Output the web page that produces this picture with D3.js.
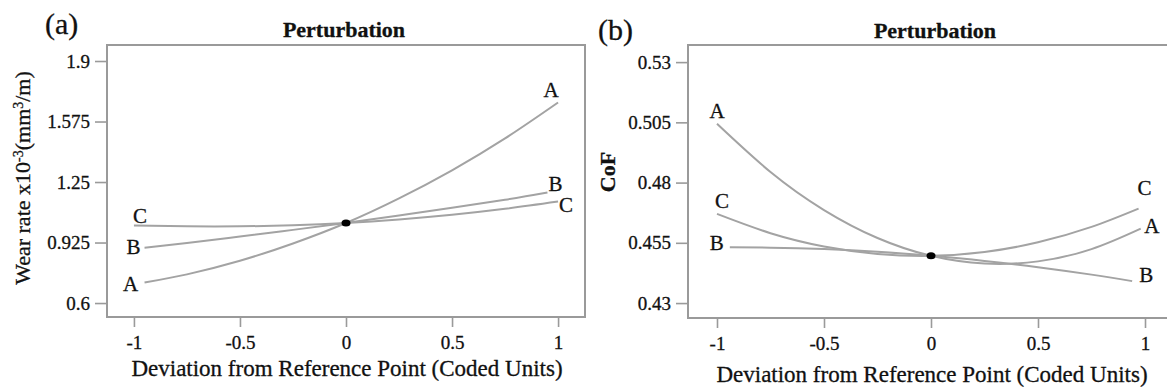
<!DOCTYPE html>
<html><head><meta charset="utf-8">
<script src="https://cdn.jsdelivr.net/npm/d3@7"></script>
<style>body{margin:0;background:#fff}svg{display:block}text{font-family:"Liberation Serif","Times New Roman",serif;fill:#111;stroke:#111;stroke-width:0.3px}</style>
</head><body>
<svg id="chart" width="1167" height="390"></svg>
<script>
// ---- data ----
const xTickVals = [-1, -0.5, 0, 0.5, 1];
const xTickLabels = ["-1", "-0.5", "0", "0.5", "1"];
const wearTicks = [0.6, 0.925, 1.25, 1.575, 1.9];
const wearTickLabels = ["0.6", "0.925", "1.25", "1.575", "1.9"];
const cofTicks = [0.43, 0.455, 0.48, 0.505, 0.53];
const cofTickLabels = ["0.43", "0.455", "0.48", "0.505", "0.53"];

// panel (a) wear rate
const wearAx = [-0.95, -0.75, -0.5, -0.25, 0, 0.25, 0.5, 0.75, 1];
const wearA  = [0.710, 0.754, 0.827, 0.920, 1.030, 1.162, 1.313, 1.484, 1.677];
const wearBx = [-0.95, -0.75, -0.5, -0.25, 0, 0.25, 0.5, 0.75, 0.95];
const wearB  = [0.897, 0.922, 0.957, 0.993, 1.030, 1.070, 1.112, 1.155, 1.194];
const wearCx = [-1, -0.75, -0.5, -0.25, 0, 0.25, 0.5, 0.75, 1];
const wearC  = [1.016, 1.012, 1.012, 1.018, 1.030, 1.049, 1.074, 1.106, 1.145];
const wearRef = [0, 1.030];

// panel (b) CoF
const cofAx = [-1, -0.75, -0.5, -0.25, 0, 0.25, 0.5, 0.75, 0.98];
const cofA  = [0.5044, 0.4844, 0.4686, 0.4570, 0.4496, 0.4464, 0.4473, 0.4524, 0.4609];
const cofBx = [-0.94, -0.75, -0.5, -0.25, 0, 0.25, 0.5, 0.75, 0.94];
const cofB  = [0.4532, 0.4530, 0.4524, 0.4513, 0.4496, 0.4475, 0.4449, 0.4418, 0.4391];
const cofCx = [-1, -0.75, -0.5, -0.25, 0, 0.25, 0.5, 0.75, 0.97];
const cofC  = [0.4670, 0.4590, 0.4535, 0.4504, 0.4496, 0.4512, 0.4552, 0.4616, 0.4692];
const cofRef = [0, 0.4496];

const factorNames = ["A", "B", "C"];

// ---- layout / style ----
const svg = d3.select("#chart");
const lineColor = "#a3a3a3", frameColor = "#9a9a9a";

const panels = [
  {
    tag: "(a)", tagX: 45, tagY: 34,
    title: "Perturbation", titleX: 344, titleY: 37,
    x0: 107, x1: 585, y0: 45, y1: 317, xDom: [-1.127, 1.127], yDom: [0.525, 1.986],
    yTicks: wearTicks, yTickLabels: wearTickLabels,
    series: [[wearAx, wearA], [wearBx, wearB], [wearCx, wearC]],
    ref: wearRef,
    lab: [[[-14, 8], [-7, -6]], [[-11, 6], [8, -1]], [[6, -3], [8, 10]]],
    yTitle: "wear", yTitleX: 22, yTitleY: 178,
    xTitleY: 376
  },
  {
    tag: "(b)", tagX: 598, tagY: 40,
    title: "Perturbation", titleX: 935, titleY: 38,
    x0: 688, x1: 1174, y0: 45, y1: 318, xDom: [-1.1355, 1.1355], yDom: [0.4238, 0.5371],
    yTicks: cofTicks, yTickLabels: cofTickLabels,
    series: [[cofAx, cofA], [cofBx, cofB], [cofCx, cofC]],
    ref: cofRef,
    lab: [[[0, -6], [11, 4]], [[-13, 3], [14, 1]], [[5, -6], [6, -14]]],
    yTitle: "CoF", yTitleX: 607, yTitleY: 172,
    xTitleY: 382
  }
];

panels.forEach(p => {
  const x = d3.scaleLinear().domain(p.xDom).range([p.x0, p.x1]);
  const y = d3.scaleLinear().domain(p.yDom).range([p.y1, p.y0]);
  const g = svg.append("g");

  g.append("rect").attr("x", p.x0).attr("y", p.y0)
    .attr("width", p.x1 - p.x0).attr("height", p.y1 - p.y0)
    .attr("fill", "none").attr("stroke", frameColor).attr("stroke-width", 2);

  const ya = g.append("g").attr("transform", `translate(${p.x0},0)`)
    .call(d3.axisLeft(y).tickValues(p.yTicks).tickSize(12).tickPadding(5)
      .tickFormat((d, i) => p.yTickLabels[i]));
  ya.select(".domain").remove();
  ya.selectAll("line").attr("stroke", frameColor).attr("stroke-width", 1.6);
  ya.selectAll("text").attr("font-size", 19);

  const xa = g.append("g").attr("transform", `translate(0,${p.y1})`)
    .call(d3.axisBottom(x).tickValues(xTickVals).tickSize(10).tickPadding(9)
      .tickFormat((d, i) => xTickLabels[i]));
  xa.select(".domain").remove();
  xa.selectAll("line").attr("stroke", frameColor).attr("stroke-width", 1.6);
  xa.selectAll("text").attr("font-size", 19);

  const line = d3.line().x(d => x(d[0])).y(d => y(d[1])).curve(d3.curveNatural);
  p.series.forEach((s, i) => {
    const pts = s[0].map((xv, k) => [xv, s[1][k]]);
    g.append("path").datum(pts).attr("d", line)
      .attr("fill", "none").attr("stroke", lineColor).attr("stroke-width", 2);
    const first = pts[0], last = pts[pts.length - 1];
    [[first, p.lab[i][0]], [last, p.lab[i][1]]].forEach(([pt, off]) => {
      g.append("text").attr("x", x(pt[0]) + off[0]).attr("y", y(pt[1]) + off[1])
        .attr("text-anchor", "middle").attr("font-size", 21).text(factorNames[i]);
    });
  });

  g.append("ellipse").attr("cx", x(p.ref[0])).attr("cy", y(p.ref[1]))
    .attr("rx", 4.5).attr("ry", 3.5).attr("fill", "#000");

  g.append("text").attr("x", p.titleX).attr("y", p.titleY).attr("text-anchor", "middle")
    .attr("font-size", 22).attr("font-weight", "bold").text(p.title);
  g.append("text").attr("x", p.tagX).attr("y", p.tagY).attr("font-size", 30).text(p.tag);

  g.append("text").attr("x", (x(-1) + x(1)) / 2 + 1).attr("y", p.xTitleY).attr("text-anchor", "middle")
    .attr("font-size", 23).text("Deviation from Reference Point (Coded Units)");

  const yt = g.append("text").attr("transform", `translate(${p.yTitleX},${p.yTitleY}) rotate(-90)`)
    .attr("text-anchor", "middle").attr("dy", "0.35em").attr("font-size", 22);
  if (p.yTitle === "wear") {
    yt.append("tspan").text("Wear rate x10");
    yt.append("tspan").attr("font-size", 14).attr("baseline-shift", "super").text("-3");
    yt.append("tspan").text("(mm");
    yt.append("tspan").attr("font-size", 14).attr("baseline-shift", "super").text("3");
    yt.append("tspan").text("/m)");
  } else {
    yt.attr("font-weight", "bold").text(p.yTitle);
  }
});
</script>
</body></html>
